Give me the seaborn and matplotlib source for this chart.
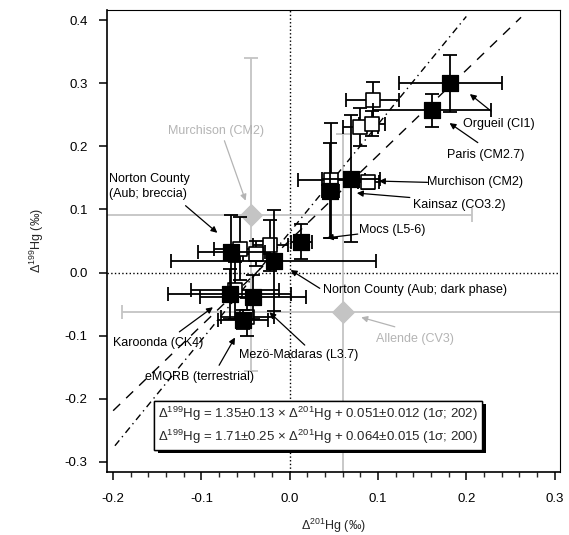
import numpy as np
import pandas as pd
import seaborn as sns
import matplotlib.pyplot as plt
import matplotlib.patheffects as pe
from matplotlib.ticker import MultipleLocator

# filled squares
black_x = [0.182, 0.161, 0.069, 0.046, 0.013, -0.018, -0.066, -0.068, -0.042, -0.053]
black_y = [0.300, 0.257, 0.149, 0.130, 0.049, 0.019, 0.032, -0.034, -0.039, -0.075]
black_xerr = [0.058, 0.067, 0.033, 0.010, 0.012, 0.116, 0.038, 0.070, 0.060, 0.028]
black_yerr = [0.045, 0.026, 0.101, 0.075, 0.028, 0.080, 0.060, 0.040, 0.035, 0.015]

# open squares
open_x = [0.094, 0.080, 0.093, 0.047, 0.089, -0.056, -0.022, -0.038, -0.062, -0.048]
open_y = [0.273, 0.231, 0.236, 0.146, 0.143, 0.038, 0.043, 0.030, -0.028, -0.070]
open_xerr = [0.030, 0.020, 0.015, 0.038, 0.012, 0.030, 0.020, 0.015, 0.050, 0.030]
open_yerr = [0.029, 0.030, 0.020, 0.091, 0.010, 0.050, 0.040, 0.020, 0.045, 0.030]

# grey diamonds (Murchison, Allende)
grey_x = [-0.044, 0.060]
grey_y = [0.092, -0.062]
grey_xerr = [0.25, 0.25]
grey_yerr = [0.248, 0.281]

# regressions: slope, intercept, x range
fits = [(1.35, 0.051, -0.200, 0.262), (1.71, 0.064, -0.198, 0.200)]

sns.set_theme(style="ticks")
plt.rcParams["font.family"] = ["Liberation Sans", "DejaVu Sans"]
plt.rcParams["mathtext.fontset"] = "custom"
plt.rcParams["mathtext.rm"] = "Liberation Sans"
plt.rcParams["mathtext.it"] = "Liberation Sans:italic"

fig = plt.figure(figsize=(5.69, 5.35), dpi=100)
ax = fig.add_axes([0.188, 0.118, 0.796, 0.863])

GREY = "#c4c4c4"

ax.axhline(0, color="black", ls=":", lw=1, zorder=1)
ax.axvline(0, color="black", ls=":", lw=1, zorder=1)

# grey points
ax.errorbar(grey_x, grey_y, xerr=grey_xerr, yerr=grey_yerr, fmt="none",
            ecolor=GREY, elinewidth=1.3, capsize=5, capthick=1.3, zorder=2)
sns.scatterplot(x=grey_x, y=grey_y, marker="D", s=120, color=GREY,
                edgecolor=GREY, ax=ax, zorder=3)

# regression lines
l1 = np.array([fits[0][2], fits[0][3]])
l2 = np.array([fits[1][2], fits[1][3]])
ax.plot(l1, fits[0][0] * l1 + fits[0][1], color="black", lw=1,
        dashes=(7, 6), zorder=4)
ax.plot(l2, fits[1][0] * l2 + fits[1][1], color="black", lw=1,
        dashes=(5, 3, 1, 3), zorder=4)

# open squares
ax.errorbar(open_x, open_y, xerr=open_xerr, yerr=open_yerr, fmt="none",
            ecolor="black", elinewidth=1.3, capsize=5, capthick=1.3, zorder=5)
sns.scatterplot(x=open_x, y=open_y, marker="s", s=90, facecolor="white",
                edgecolor="black", linewidth=1.2, ax=ax, zorder=6)

# filled squares
ax.errorbar(black_x, black_y, xerr=black_xerr, yerr=black_yerr, fmt="none",
            ecolor="black", elinewidth=1.3, capsize=5, capthick=1.3, zorder=7)
sns.scatterplot(x=black_x, y=black_y, marker="s", s=120, color="black",
                edgecolor="black", ax=ax, zorder=8)

# labels with arrows: text, text pos, arrow tail, arrow head, colour
notes = [
    ("Murchison (CM2)", (-0.083, 0.224), (-0.074, 0.209), (-0.050, 0.114), "#b4b4b4", "center"),
    ("Norton County\n(Aub; breccia)", (-0.205, 0.137), (-0.118, 0.106), (-0.082, 0.063), "black", "left"),
    ("Orgueil (CI1)", (0.196, 0.235), (0.228, 0.256), (0.204, 0.283), "black", "left"),
    ("Paris (CM2.7)", (0.178, 0.186), (0.213, 0.206), (0.181, 0.237), "black", "left"),
    ("Murchison (CM2)", (0.156, 0.143), (0.156, 0.143), (0.101, 0.145), "black", "left"),
    ("Kainsaz (CO3.2)", (0.140, 0.107), (0.136, 0.119), (0.076, 0.126), "black", "left"),
    ("Mocs (L5-6)", (0.079, 0.067), (0.077, 0.061), (0.042, 0.055), "black", "left"),
    ("Norton County (Aub; dark phase)", (0.038, -0.027), (0.034, -0.025), (0.001, 0.004), "black", "left"),
    ("Allende (CV3)", (0.098, -0.105), (0.119, -0.086), (0.081, -0.071), "#b4b4b4", "left"),
    ("Karoonda (CK4)", (-0.200, -0.112), (-0.125, -0.094), (-0.087, -0.055), "black", "left"),
    ("Mezö-Madaras (L3.7)", (-0.057, -0.131), (0.017, -0.115), (-0.023, -0.063), "black", "left"),
    ("eMORB (terrestrial)", (-0.164, -0.165), (-0.080, -0.147), (-0.062, -0.103), "black", "left"),
]
for txt, tpos, tail, head, col, ha in notes:
    ax.annotate("", xy=head, xytext=tail,
                arrowprops=dict(arrowstyle="-|>", color=col, lw=0.9,
                                mutation_scale=9, shrinkA=0, shrinkB=0),
                zorder=9)
    ax.text(tpos[0], tpos[1], txt, color=col, fontsize=9, ha=ha, va="center",
            linespacing=1.35, zorder=10)

eq = (r"$\Delta^{199}$Hg = 1.35±0.13 × $\Delta^{201}$Hg + 0.051±0.012 (1σ; 202)" "\n"
      r"$\Delta^{199}$Hg = 1.71±0.25 × $\Delta^{201}$Hg + 0.064±0.015 (1σ; 200)")
t = ax.text(-0.149, -0.242, eq, fontsize=9.5, ha="left", va="center",
            linespacing=1.35, zorder=11,
            bbox=dict(boxstyle="square,pad=0.3", facecolor="white",
                      edgecolor="black", lw=1))
t.get_bbox_patch().set_path_effects(
    [pe.withSimplePatchShadow(offset=(2.5, -2.5), shadow_rgbFace="black", alpha=1),
     pe.Normal()])

ax.set_xlim(-0.207, 0.306)
ax.set_ylim(-0.316, 0.416)
ax.xaxis.set_major_locator(MultipleLocator(0.1))
ax.xaxis.set_minor_locator(MultipleLocator(0.02))
ax.yaxis.set_major_locator(MultipleLocator(0.1))
ax.set_xticks([-0.2, -0.1, 0.0, 0.1, 0.2, 0.3])
ax.set_xticklabels(["-0.2", "-0.1", "0.0", "0.1", "0.2", "0.3"])
ax.set_yticks([-0.3, -0.2, -0.1, 0.0, 0.1, 0.2, 0.3, 0.4])
ax.set_yticklabels(["-0.3", "-0.2", "-0.1", "0.0", "0.1", "0.2", "0.3", "0.4"])
ax.tick_params(axis="both", which="major", direction="out", length=6,
               width=1.1, labelsize=9.5, colors="black")
ax.tick_params(axis="x", which="major", pad=9)
ax.tick_params(axis="y", which="major", pad=8)
ax.tick_params(axis="x", which="minor", direction="out", length=3.5, width=1)
for side in ["left", "bottom"]:
    ax.spines[side].set_linewidth(1.2)
    ax.spines[side].set_color("black")
for side in ["top", "right"]:
    ax.spines[side].set_visible(True)
    ax.spines[side].set_linewidth(0.8)
    ax.spines[side].set_color("black")

ax.set_xlabel(r"$\Delta^{201}$Hg (‰)", fontsize=9, labelpad=9)
ax.set_ylabel(r"$\Delta^{199}$Hg (‰)", fontsize=9, labelpad=13)
ax.grid(False)

fig.savefig("out.png", dpi=100)
